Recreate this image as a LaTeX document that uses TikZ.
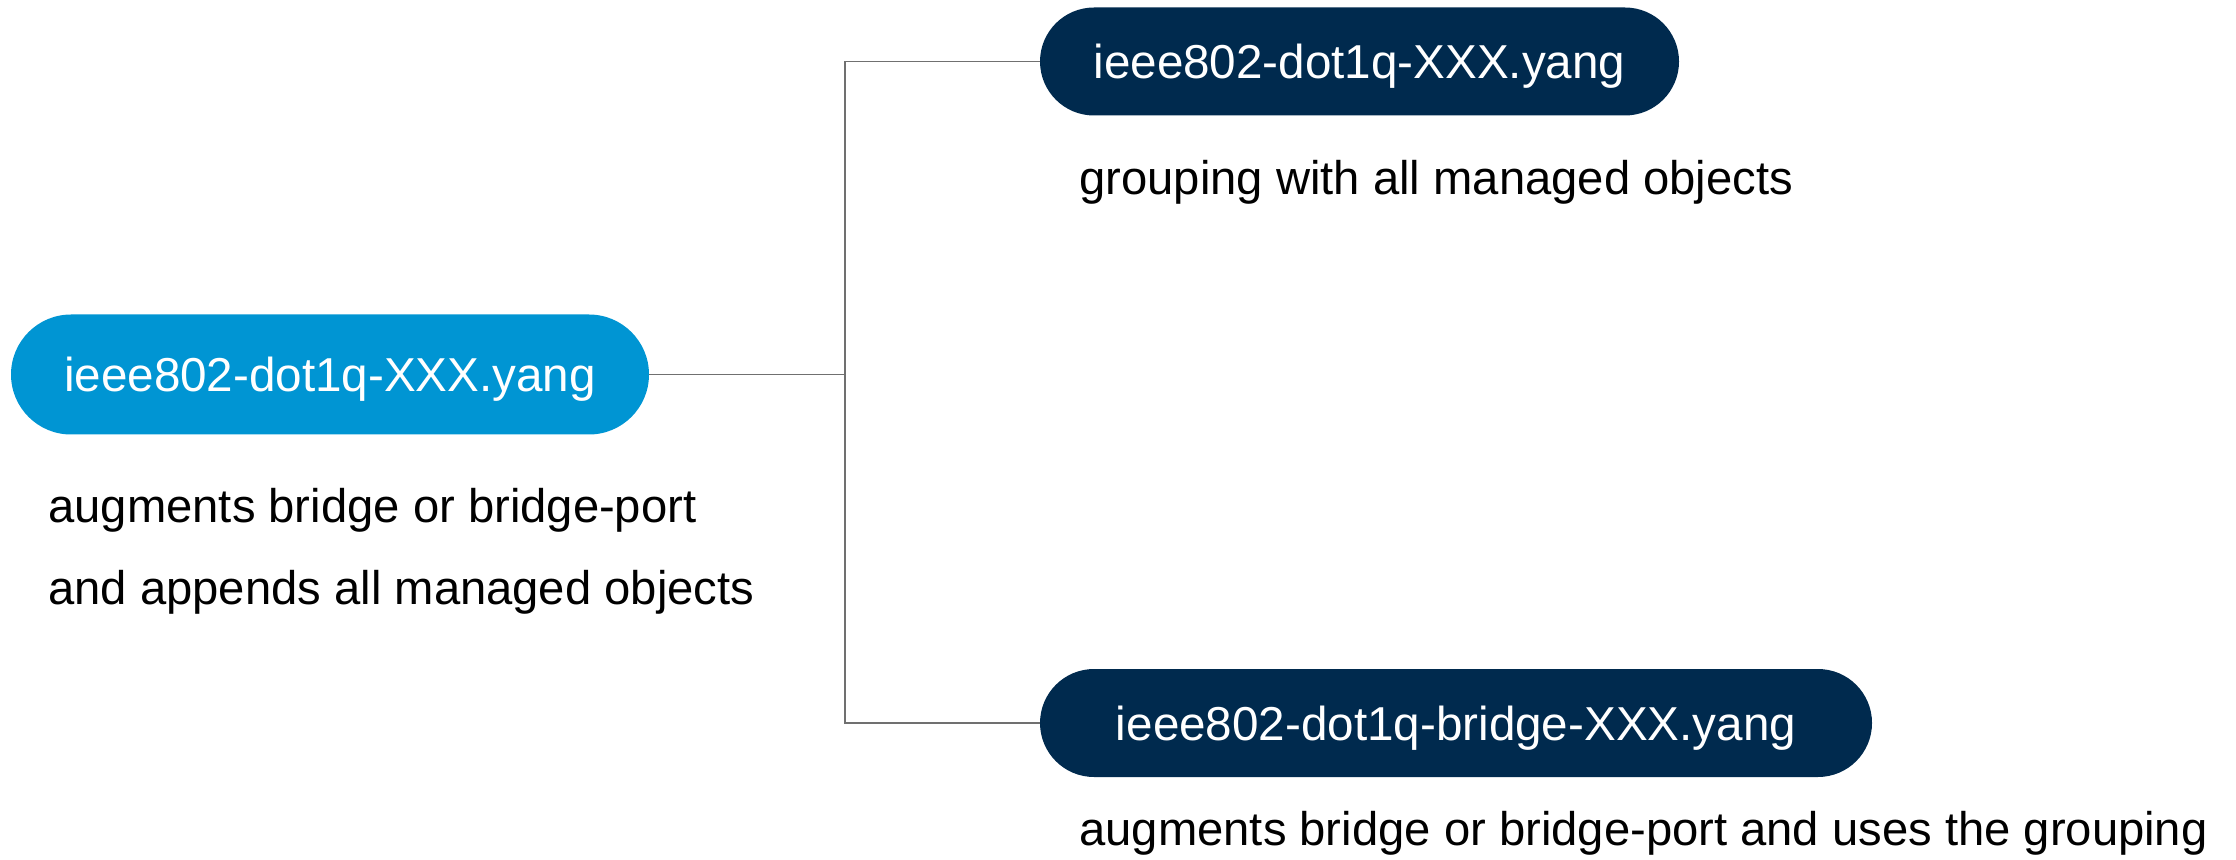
\documentclass[tikz,border=0pt]{standalone}
\usepackage{fontspec}
\setmainfont{Liberation Sans}
\definecolor{lightblue}{HTML}{0095D3}
\definecolor{navy}{HTML}{002A4E}
\definecolor{linegray}{HTML}{707070}
\begin{document}
\begin{tikzpicture}[x=0.5pt,y=-0.5pt,
  font=\fontsize{23.6}{28}\selectfont,
  pill/.style={rounded corners=#1, inner sep=0pt, text=white,
    font=\fontsize{23.8}{28}\selectfont,
    text height=17pt, text depth=0pt, minimum height=2*#1},
  desc/.style={anchor=base west, inner sep=0pt, text=black},
  conn/.style={draw=linegray, line width=0.65pt}]
\useasboundingbox (0,0) rectangle (2236,860);
\node[pill=30pt, fill=lightblue, minimum width=319pt] (root) at (330,374.5) {ieee802-dot1q-XXX.yang};
\node[pill=27pt, fill=navy, minimum width=319.5pt] (top) at (1359.5,61.5) {ieee802-dot1q-XXX.yang};
\node[pill=27pt, fill=navy, minimum width=416pt] (bot) at (1456,723) {ieee802-dot1q-bridge-XXX.yang};
\coordinate (j) at (845,374.5);
\draw[conn] (root.east) -- (j);
\draw[conn] (top.west) -| (j) |- (bot.west);
\node[desc] (d1) at (1079,195) {grouping with all managed objects};
\node[desc] (d2) at (48,523) {augments bridge or bridge-port};
\node[desc] (d3) at (48,604) {and appends all managed objects};
\node[desc] (d4) at (1079,845) {augments bridge or bridge-port and uses the grouping};
\end{tikzpicture}
\end{document}
